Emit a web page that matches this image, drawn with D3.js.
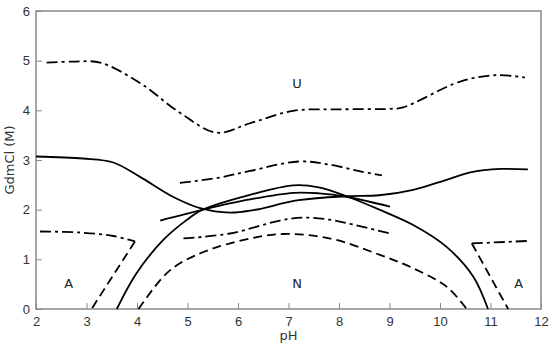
<!DOCTYPE html>
<html>
<head>
<meta charset="utf-8">
<script src="https://cdn.jsdelivr.net/npm/d3@7"></script>
<style>
  body { margin: 0; background: #fff; }
  svg { font-family: "DejaVu Sans", sans-serif; }
  .axis text { font-size: 13px; fill: #333; }
  .axis path, .axis line { stroke: #888; }
</style>
</head>
<body>
<div class="chart"></div>
<script>
// Phase diagram data: [pH, GdmCl (M)]
const xTicks = [2, 3, 4, 5, 6, 7, 8, 9, 10, 11, 12];
const yTicks = [0, 1, 2, 3, 4, 5, 6];

// dash-dot, upper boundary of U
const uBoundary = [[2.21, 4.96], [2.73, 4.98], [3.27, 4.96], [4.06, 4.55], [4.85, 3.95], [5.58, 3.55],
    [6.24, 3.74], [7.09, 3.99], [8.0, 4.02], [9.01, 4.03], [9.27, 4.06], [10.4, 4.58], [11.12, 4.71], [11.68, 4.66]];
// solid line from 3.07 M at pH 2 to the right edge
const midSolid = [[2.0, 3.07], [2.93, 3.03], [3.53, 2.95], [4.06, 2.66], [4.71, 2.26], [5.25, 2.03],
    [5.84, 1.94], [6.3, 1.99], [7.2, 2.19], [8.15, 2.27], [8.8, 2.29], [9.47, 2.4], [10.13, 2.6],
    [10.6, 2.75], [11.2, 2.82], [11.74, 2.81]];
// solid bell curve (N boundary)
const bellSolid = [[3.6, 0], [3.99, 0.72], [4.52, 1.39], [4.98, 1.79], [5.3, 2.0], [6.24, 2.3],
    [7.1, 2.49], [7.6, 2.45], [8.15, 2.27], [8.8, 2.0], [9.47, 1.69], [10.13, 1.25], [10.66, 0.65], [10.95, 0]];
// short solid line
const shortSolid = [[4.46, 1.78], [5.31, 2.0], [6.2, 2.2], [7.1, 2.34], [7.6, 2.33], [8.15, 2.26], [9.01, 2.06]];
// dash-dot above the crossing
const upperDashDot = [[4.85, 2.54], [5.6, 2.64], [6.24, 2.78], [7.2, 2.97], [7.8, 2.91], [8.42, 2.77], [8.85, 2.69]];
// dash-dot below the crossing
const lowerDashDot = [[4.92, 1.42], [5.84, 1.52], [6.83, 1.78], [7.3, 1.84], [7.8, 1.8], [8.28, 1.7], [9.01, 1.52]];
// dashed inner curve
const lowerDashed = [[4.03, 0], [4.52, 0.65], [4.85, 0.92], [5.51, 1.22], [6.5, 1.47], [6.9, 1.51], [7.36, 1.49],
    [7.95, 1.39], [8.81, 1.09], [9.47, 0.82], [10.13, 0.45], [10.53, 0]];
// A regions
const leftADashDot = [[2.08, 1.56], [2.87, 1.54], [3.53, 1.47], [3.96, 1.36]];
const leftADashed = [[3.96, 1.36], [3.1, 0]];
const rightADashDot = [[10.63, 1.32], [11.74, 1.37]];
const rightADashed = [[10.63, 1.32], [11.35, 0]];

const labels = [
    { text: "U", ph: 7.17, m: 4.55 },
    { text: "N", ph: 7.17, m: 0.52 },
    { text: "A", ph: 2.65, m: 0.52 },
    { text: "A", ph: 11.56, m: 0.52 }
];

const margin = { top: 11, right: 12, bottom: 42, left: 36 };
const width = 553 - margin.left - margin.right;
const height = 351 - margin.top - margin.bottom;

const svg = d3.select(".chart").append("svg")
    .attr("width", 553)
    .attr("height", 351)
    .append("g")
    .attr("transform", `translate(${margin.left},${margin.top})`);

const x = d3.scaleLinear().domain([2, 12]).range([0, width]);
const y = d3.scaleLinear().domain([0, 6]).range([height, 0]);

// frame
svg.append("rect")
    .attr("width", width)
    .attr("height", height)
    .attr("fill", "none")
    .attr("stroke", "#888")
    .attr("stroke-width", 1.5);

// axes with inward ticks
svg.append("g")
    .attr("class", "axis")
    .attr("transform", `translate(0,${height})`)
    .call(d3.axisBottom(x).tickValues(xTicks).tickSize(-6).tickPadding(8).tickFormat(d3.format("d")))
    .call(g => g.select(".domain").remove());

svg.append("g")
    .attr("class", "axis")
    .call(d3.axisLeft(y).tickValues(yTicks).tickSize(-6).tickPadding(6).tickFormat(d3.format("d")))
    .call(g => g.select(".domain").remove());

svg.append("text")
    .attr("x", width / 2)
    .attr("y", height + 31)
    .attr("text-anchor", "middle")
    .style("font-size", "13px")
    .attr("fill", "#333")
    .text("pH");

svg.append("text")
    .attr("transform", "rotate(-90)")
    .attr("x", -height / 2)
    .attr("y", -margin.left + 14)
    .attr("text-anchor", "middle")
    .style("font-size", "13px")
    .attr("fill", "#333")
    .text("GdmCl (M)");

const smooth = d3.line()
    .x(d => x(d[0]))
    .y(d => y(d[1]))
    .curve(d3.curveCatmullRom.alpha(0.5));

const straight = d3.line()
    .x(d => x(d[0]))
    .y(d => y(d[1]));

const dashDot = "11,4,3,4";
const dashed = "9,5";

const curves = [
    { data: uBoundary, dash: dashDot, gen: smooth },
    { data: midSolid, dash: null, gen: smooth },
    { data: bellSolid, dash: null, gen: smooth },
    { data: shortSolid, dash: null, gen: smooth },
    { data: upperDashDot, dash: dashDot, gen: smooth },
    { data: lowerDashDot, dash: dashDot, gen: smooth },
    { data: lowerDashed, dash: dashed, gen: smooth },
    { data: leftADashDot, dash: dashDot, gen: smooth },
    { data: leftADashed, dash: dashed, gen: straight },
    { data: rightADashDot, dash: dashDot, gen: straight },
    { data: rightADashed, dash: dashed, gen: straight }
];

svg.selectAll(".curve")
    .data(curves)
    .enter().append("path")
    .attr("class", "curve")
    .attr("fill", "none")
    .attr("stroke", "#000")
    .attr("stroke-width", 1.8)
    .attr("stroke-dasharray", d => d.dash)
    .attr("d", d => d.gen(d.data));

svg.selectAll(".region")
    .data(labels)
    .enter().append("text")
    .attr("class", "region")
    .attr("x", d => x(d.ph))
    .attr("y", d => y(d.m))
    .attr("text-anchor", "middle")
    .attr("dy", "0.35em")
    .style("font-size", "13px")
    .attr("fill", "#222")
    .text(d => d.text);
</script>
</body>
</html>
